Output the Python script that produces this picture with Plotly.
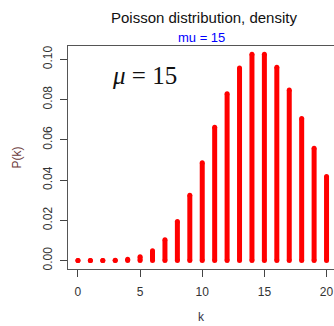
import plotly.graph_objects as go

k = list(range(0, 21))
pk = [3.06e-07, 4.59e-06, 3.44e-05, 1.72e-04, 6.45e-04, 0.00194, 0.00484, 0.01037,
      0.01944, 0.03241, 0.04861, 0.06629, 0.08286, 0.09561, 0.10244, 0.10244,
      0.09603, 0.08474, 0.07061, 0.05575, 0.04181]
x_ticks = [0, 5, 10, 15, 20]
y_ticks = [0.0, 0.02, 0.04, 0.06, 0.08, 0.10]
y_tick_labels = ["0.00", "0.02", "0.04", "0.06", "0.08", "0.10"]

W, H = 334, 326
L, T, B = 68, 46, 57
px_per_unit = 12.43
x_range = [-0.8, -0.8 + (W - L) / px_per_unit]

xs, ys = [], []
for kk, p in zip(k, pk):
    xs += [kk, kk, None]
    ys += [0, p, None]

fig = go.Figure()
fig.add_trace(go.Scatter(x=xs, y=ys, mode="lines",
                         line=dict(color="#ff0000", width=5), hoverinfo="skip",
                         showlegend=False))
fig.add_trace(go.Scatter(x=k + k, y=[0] * len(k) + pk, mode="markers",
                         marker=dict(color="#ff0000", size=5, line=dict(width=0)),
                         showlegend=False))

fig.update_layout(
    width=W, height=H,
    margin=dict(l=L, r=0, t=T, b=B, autoexpand=False),
    paper_bgcolor="white", plot_bgcolor="white",
    font=dict(family="Liberation Sans, Arial", size=12, color="#333333"),
    xaxis=dict(range=x_range, tickvals=x_ticks, ticks="outside", ticklen=7,
               tickcolor="#444444", showline=True, linecolor="#555555", mirror=True,
               showgrid=False, zeroline=False, tickfont=dict(size=12, color="#333333"),
               automargin=False, ticklabelstandoff=5,
               title=dict(text="k", font=dict(size=12, color="#333344"), standoff=14)),
    yaxis=dict(range=[-0.0042, 0.1066], tickvals=y_ticks, ticktext=y_tick_labels,
               ticks="outside", ticklen=7, tickcolor="#444444", tickangle=-90,
               showline=True, linecolor="#555555", mirror=False,
               showgrid=False, zeroline=False, tickfont=dict(size=12, color="#333333"),
               automargin=False, ticklabelstandoff=3,
               title=dict(text="P(k)", font=dict(size=12, color="#6b3a3a"), standoff=17)),
    annotations=[
        dict(text="Poisson distribution, density", x=204, y=H - 17,
             showarrow=False, font=dict(size=15, color="#111111")),
        dict(text="mu = 15", x=201, y=H - 38, showarrow=False,
             font=dict(size=13, color="#0000ff")),
        dict(text="<i>μ</i> = 15", x=144, y=H - 75, showarrow=False,
             font=dict(size=25, color="#111111", family="Liberation Serif, DejaVu Serif")),
    ],
)
# convert pixel positions of annotations into paper coordinates
pw, ph = W - L, H - T - B
for a in fig.layout.annotations:
    a.x = (a.x - L) / pw
    a.y = (a.y - B) / ph
    a.xref = "paper"
    a.yref = "paper"
    a.xanchor = "center"
    a.yanchor = "middle"

fig.write_html("out.html", config={"displayModeBar": False},
               post_script="document.body.style.margin='0';document.body.style.overflow='hidden';")
